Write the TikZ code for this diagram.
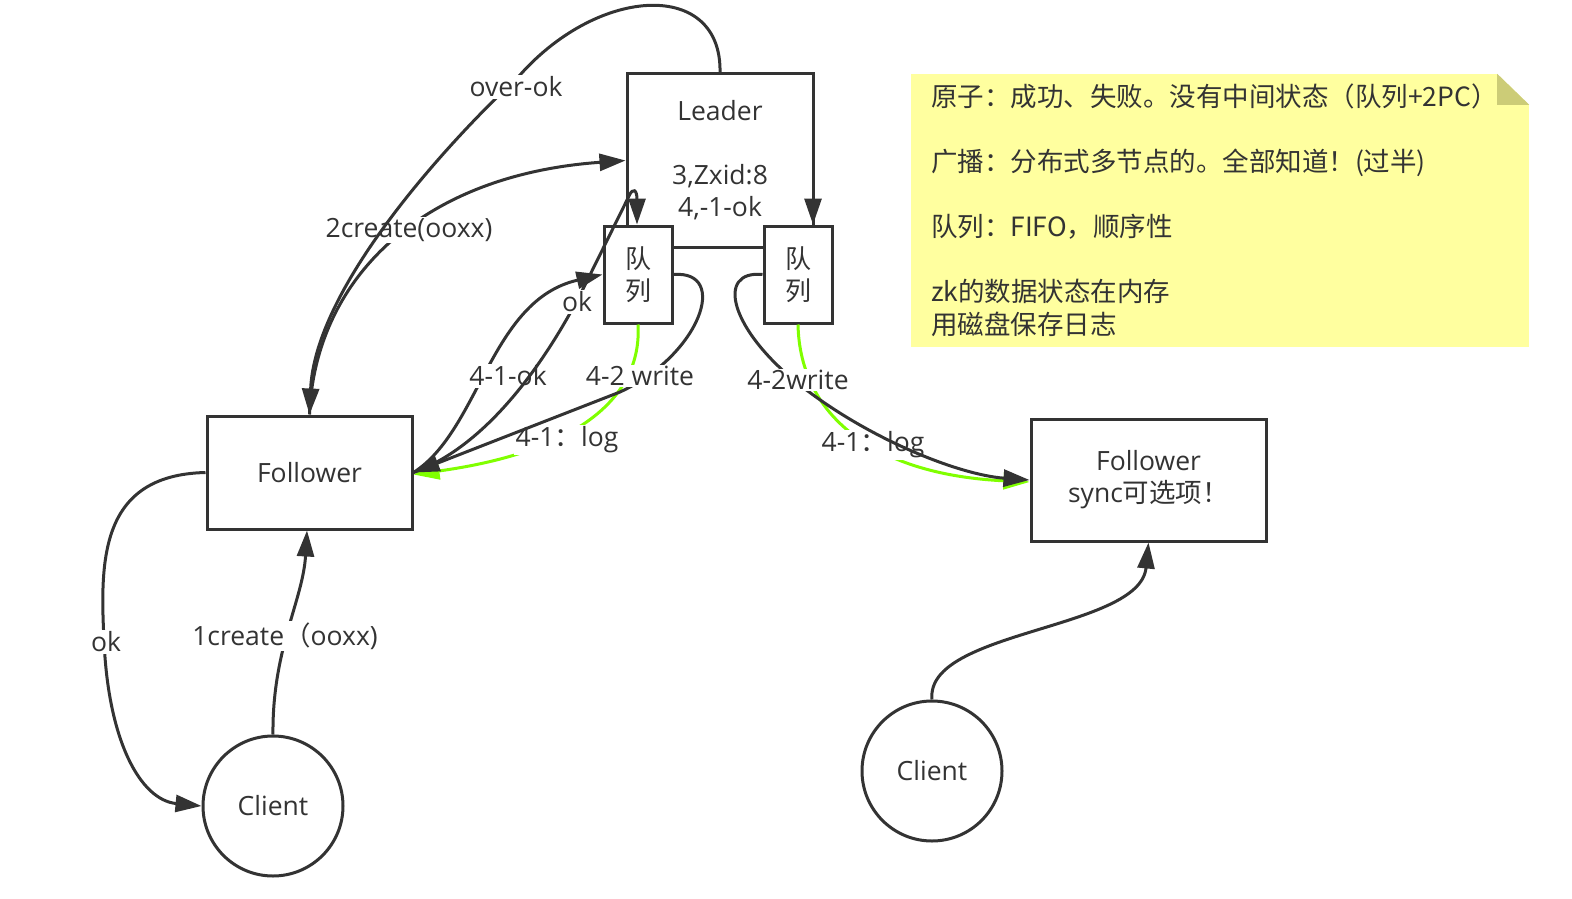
\documentclass[tikz,border=0pt]{standalone}
\usepackage{fontspec}
\setmainfont{Open Sans}
\newfontfamily\cjk{Noto Sans CJK SC}
\usetikzlibrary{arrows.meta,calc}
\definecolor{ink}{HTML}{333333}
\definecolor{lime}{HTML}{80FF00}
\definecolor{notey}{HTML}{FFFF9F}
\definecolor{notefold}{HTML}{CCCC77}
\begin{document}
\begin{tikzpicture}[x=1pt,y=-1pt,
  font=\fontsize{26.5}{32}\selectfont, text=ink,
  box/.style={draw=ink, line width=3pt, fill=white, align=center, inner sep=0pt},
  conn/.style={draw=ink, line width=3pt},
  arr/.style={conn, -{Triangle[length=26pt,width=17pt]}},
  garr/.style={draw=lime, line width=3pt, -{Triangle[length=26pt,width=17pt]}},
  lbl/.style={fill=white, inner sep=1.5pt, text=ink},
  qfont/.style={font=\fontsize{26}{32}\selectfont\cjk},
  notebox/.style={fill=notey, inner xsep=20pt, inner ysep=0pt, text width=578pt, align=left,
    minimum width=618pt, minimum height=273pt, text=ink,
    font=\fontsize{26.5}{32.5}\selectfont\cjk}]
\useasboundingbox (0,0) rectangle (1572,899);
% note
\node[notebox] (note) at (1220,210.5) {原子：成功、失败。没有中间状态（队列+2PC）\\[32.5pt]
广播：分布式多节点的。全部知道！(过半)\\[32.5pt]
队列：FIFO，顺序性\\[32.5pt]
zk的数据状态在内存\\
用磁盘保存日志};
\fill[white] (note.north east) -- ++(-32,0) -- ++(32,31) -- cycle;
\fill[notefold] ($(note.north east)+(-32,0)$) -- ++(0,31) -- ++(32,0) -- cycle;
% boxes
\node[box, minimum width=186pt, minimum height=173pt] (leader) at (720,160.5)
  {Leader\\[32pt]3,Zxid:8\\4,-1-ok};
\node[box, qfont, minimum width=68pt, minimum height=97pt] (q1) at (638,274.5) {队\\列};
\node[box, qfont, minimum width=68pt, minimum height=97pt] (q2) at (798,274.5) {队\\列};
\node[box, minimum width=205pt, minimum height=113pt] (f1) at (309.5,472.5) {Follower};
\node[box, minimum width=235pt, minimum height=122pt] (f2) at (1148.5,480) {Follower\\sync{\cjk 可选项！}};
\node[box, circle, minimum size=140pt] (c1) at (273,806) {Client};
\node[box, circle, minimum size=140pt] (c2) at (932,771) {Client};
% 2create
\draw[arr] (f1.north) .. controls (315,280) and (420,175) .. (leader.west);
\node[lbl] (l2create) at (409,230) {2create(ooxx)};
% over-ok
\draw[arr] (leader.north) .. controls (722,-20) and (600,-15) .. (520,75)
  .. controls (440,150) and (315,290) .. (f1.north);
\node[lbl] (lover) at (516,87) {over-ok};
% leader -> q2
\draw[arr] ([xshift=-1.5pt]leader.east) -- ([xshift=-1.5pt]leader.east |- q2.north);
% left follower links
\draw[garr] (q1.south) .. controls (642,390) and (590,450) .. ([yshift=-2pt]f1.east);
\node[lbl] (llog1) at (567,440) {4-1{\cjk ：}log};
\draw[arr] (f1.east) .. controls (480,430) and (490,300) .. (q1.west);
\node[lbl] (l41ok) at (508,376) {4-1-ok};
\draw[arr] (f1.east) .. controls (490,445) and (550,355) .. (585,285) -- (629,196)
  .. controls (633,187) and (637,190) .. ([xshift=-1pt]q1.north);
\node[lbl] (lok1) at (577,302) {ok};
\draw[arr] (q1.east) .. controls (730,270) and (700,355) .. (620,392) -- (f1.east);
\node[lbl] (lw1) at (640,376) {4-2 write};
% right follower links
\draw[garr] (q2.south) .. controls (800,420) and (880,475) .. ([yshift=-2pt]f2.west);
\node[lbl] (llog2) at (873,445) {4-1{\cjk ：}log};
\draw[arr] (q2.west) .. controls (715,270) and (730,330) .. (800,385)
  .. controls (870,440) and (960,475) .. (f2.west);
\node[lbl] (lw2) at (798,380) {4-2write};
% bottom
\draw[arr] (f1.west) .. controls (100,475) and (100,560) .. (104,640)
  .. controls (108,740) and (140,800) .. (c1.west);
\node[lbl] (lok2) at (106,642) {ok};
\draw[arr] (c1.north) .. controls (272,650) and (303,600) .. ([xshift=-2.5pt]f1.south);
\node[lbl] (l1create) at (285,636) {1create{\cjk （}ooxx)};
\draw[arr] (c2.north) .. controls (925,630) and (1140,630) .. (f2.south);
\end{tikzpicture}
\end{document}
